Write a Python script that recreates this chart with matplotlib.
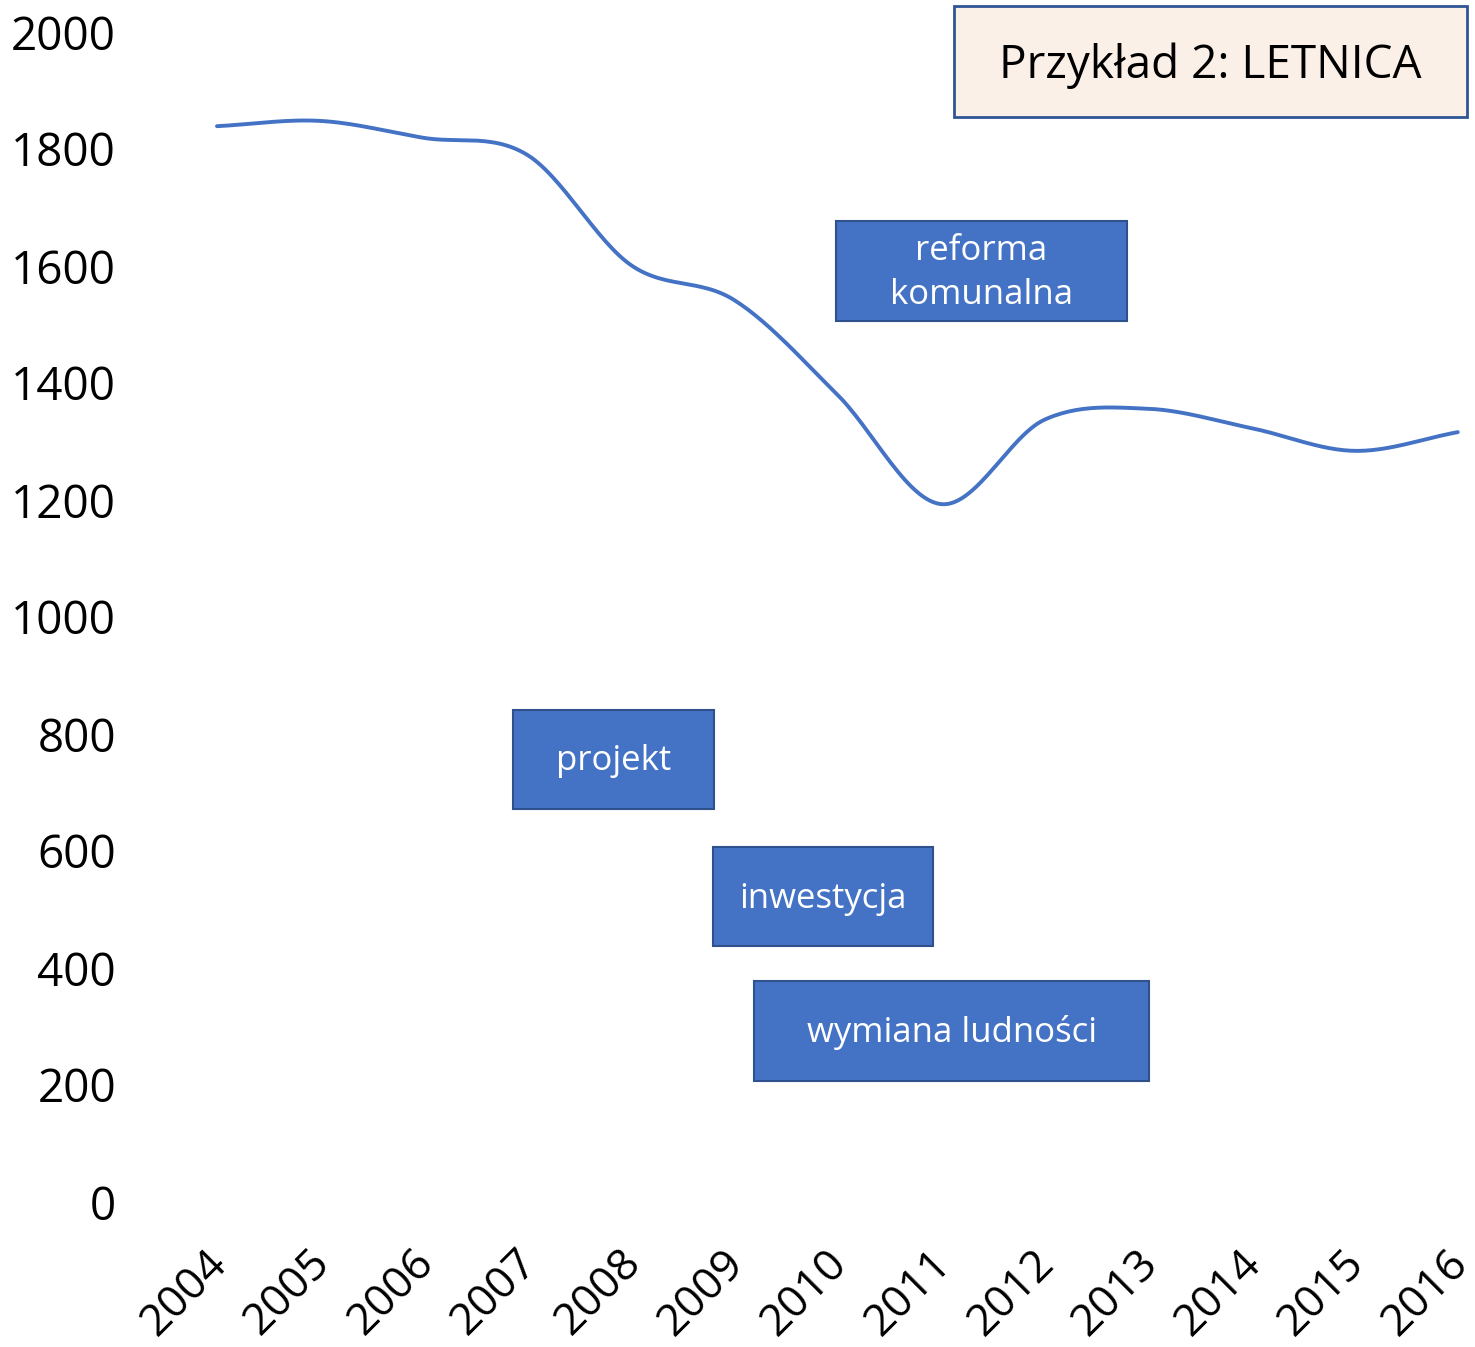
import matplotlib.pyplot as plt
import numpy as np
from matplotlib.patches import Rectangle
from matplotlib.transforms import ScaledTranslation

plt.rcParams["font.family"] = ["Open Sans", "DejaVu Sans"]

years = [2004, 2005, 2006, 2007, 2008, 2009, 2010, 2011, 2012, 2013, 2014, 2015, 2016]
values = [1839, 1848, 1819, 1790, 1602, 1542, 1380, 1193, 1337, 1356, 1323, 1284, 1316]
y_ticks = [0, 200, 400, 600, 800, 1000, 1200, 1400, 1600, 1800, 2000]

# napisy w ramkach: (tekst, lewo, góra, prawo, dół) w pikselach rysunku
labels = [
    ("reforma\nkomunalna", 836, 221, 1127, 321),
    ("projekt", 513, 710, 714, 809),
    ("inwestycja", 713, 847, 933, 946),
    ("wymiana ludności", 754, 981, 1149, 1081),
]
title = "Przykład 2: LETNICA"

W, H = 1475, 1347


def smooth(x, y, n=30):
    """Catmull-Rom jak wygładzona linia w Excelu."""
    x = np.asarray(x, float)
    y = np.asarray(y, float)
    px = np.concatenate([[2 * x[0] - x[1]], x, [2 * x[-1] - x[-2]]])
    py = np.concatenate([[2 * y[0] - y[1]], y, [2 * y[-1] - y[-2]]])
    xs, ys = [], []
    t = np.linspace(0, 1, n)
    for i in range(1, len(px) - 2):
        for p, out in ((px, xs), (py, ys)):
            p0, p1, p2, p3 = p[i - 1], p[i], p[i + 1], p[i + 2]
            out.append(0.5 * (2 * p1 + (-p0 + p2) * t
                              + (2 * p0 - 5 * p1 + 4 * p2 - p3) * t ** 2
                              + (-p0 + 3 * p1 - 3 * p2 + p3) * t ** 3))
    return np.concatenate(xs), np.concatenate(ys)


fig = plt.figure(figsize=(W / 100, H / 100), dpi=100)
left, right, top, bottom = 130, 1470, 32, 1202
ax = fig.add_axes([left / W, 1 - bottom / H, (right - left) / W, (bottom - top) / H])

sx, sy = smooth(years, values)
ax.plot(sx, sy, color="#4472C4", lw=2.8, solid_capstyle="round")

step = 103.4
ax.set_xlim(2004 - 87 / step, 2004 + (right - left - 87) / step)
ax.set_ylim(0, 2000)
ax.set_yticks(y_ticks)
ax.set_xticks(years)
ax.set_xticklabels([str(y) for y in years], rotation=45, ha="right",
                   rotation_mode="anchor")
ax.tick_params(axis="y", length=0, pad=10, labelsize=33)
ax.tick_params(axis="x", length=0, pad=28, labelsize=32)
shift = ScaledTranslation(-12 / 100, 0, fig.dpi_scale_trans)
for lab in ax.get_xticklabels():
    lab.set_transform(lab.get_transform() + shift)
for s in ax.spines.values():
    s.set_visible(False)

# ramki z opisami
for text, x0, y0, x1, y1 in labels:
    fig.patches.append(Rectangle((x0 / W, 1 - y1 / H), (x1 - x0) / W, (y1 - y0) / H,
                                 transform=fig.transFigure, facecolor="#4472C4",
                                 edgecolor="#2F528F", lw=1.5, zorder=3))
    fig.text((x0 + x1) / 2 / W, 1 - (y0 + y1 + 4) / 2 / H, text, color="white",
             fontsize=25, ha="center", va="center", linespacing=1.35, zorder=4)

fig.patches.append(Rectangle((954 / W, 1 - 117 / H), (1467 - 954) / W, (117 - 6) / H,
                             transform=fig.transFigure, facecolor="#FBF0E8",
                             edgecolor="#2F5597", lw=2, zorder=3))
fig.text((954 + 1467) / 2 / W, 1 - 66 / H, title, color="black",
         fontsize=33, ha="center", va="center", zorder=4)

fig.savefig("out.png", dpi=100)
